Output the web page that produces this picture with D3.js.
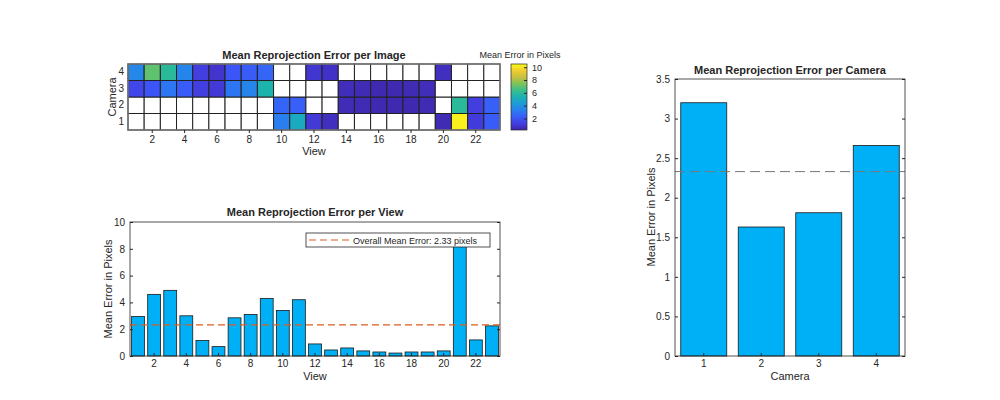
<!DOCTYPE html>
<html><head><meta charset="utf-8">
<script src="https://cdn.jsdelivr.net/npm/d3@7"></script>
<style>body{margin:0;background:#fff;font-family:"Liberation Sans",Arial,sans-serif}text{fill:#262626}</style>
</head><body><svg id="c" width="1000" height="400"></svg>
<script>
// per image errors, rows = camera 1..4, null = no image
const views = d3.range(1, 24);
const cameras = [1, 2, 3, 4];
const cam1 = [null,null,null,null,null,null,null,null,null,3.3,5.0,1.0,0.6,null,null,null,null,null,null,0.4,10.3,1.1,2.2];
const cam2 = [null,null,null,null,null,null,null,null,null,2.5,2.3,null,null,0.45,0.4,0.35,0.35,0.35,0.4,null,6.0,1.2,2.3];
const cam3 = [1.5,2.0,3.0,2.2,1.2,1.0,3.0,3.5,5.5,null,null,null,null,0.5,0.4,0.35,0.35,0.4,0.5,null,null,null,null];
const cam4 = [3.6,7.0,6.0,3.5,1.2,0.8,2.0,2.2,2.5,null,null,0.9,0.7,null,null,null,null,null,null,0.6,null,null,null];
const viewErr = [2.95,4.6,4.9,3.0,1.15,0.7,2.85,3.1,4.3,3.4,4.2,0.9,0.45,0.6,0.38,0.3,0.22,0.3,0.3,0.38,8.2,1.2,2.25];
const camErr = [3.2,1.63,1.81,2.66];
const overallMean = 2.33;

const svg = d3.select("#c");
const parula = d3.interpolateRgbBasis(["#3e26a8","#4743f8","#2f6ffa","#1f97e1","#12b2b2","#3cc383","#a7c43e","#f8ba3c","#f9fb15"]);

function title(x, y, t) {
  svg.append("text").attr("x", x).attr("y", y).attr("text-anchor", "middle")
    .attr("font-size", 11).attr("font-weight", "bold").text(t);
}
function styleAxis(g) { g.selectAll("text").attr("font-size", 10).attr("fill", "#262626"); g.selectAll("path,line").attr("stroke", "#262626"); }

// ---- heatmap
const hm = {l: 128, r: 500, t: 64, b: 130};
const hx = d3.scaleBand().domain(views).range([hm.l, hm.r]);
const hy = d3.scaleBand().domain([4, 3, 2, 1]).range([hm.t, hm.b]);
const hc = d3.scaleSequential(parula).domain([0.2, 10.5]);
const rows = {1: cam1, 2: cam2, 3: cam3, 4: cam4};
cameras.forEach(c => rows[c].forEach((v, i) => {
  svg.append("rect").attr("x", hx(i + 1)).attr("y", hy(c)).attr("width", hx.bandwidth()).attr("height", hy.bandwidth())
    .attr("fill", v == null ? "#fff" : hc(v)).attr("stroke", "#222").attr("stroke-width", 1);
}));
svg.append("rect").attr("x", hm.l).attr("y", hm.t).attr("width", hm.r - hm.l).attr("height", hm.b - hm.t).attr("fill", "none").attr("stroke", "#777").attr("stroke-width", 1.5);
svg.append("g").attr("transform", `translate(0,${hm.b})`).call(d3.axisBottom(hx).tickValues(d3.range(2, 23, 2)).tickSize(3).tickSizeOuter(0)).call(styleAxis).call(g => g.select(".domain").remove());
svg.append("g").attr("transform", `translate(${hm.l},0)`).call(d3.axisLeft(hy).tickSize(0).tickPadding(4)).call(styleAxis).call(g => g.select(".domain").remove());
title(314, 59, "Mean Reprojection Error per Image");
svg.append("text").attr("x", 314).attr("y", 155).attr("text-anchor", "middle").attr("font-size", 11).text("View");
svg.append("text").attr("transform", "translate(116,97) rotate(-90)").attr("text-anchor", "middle").attr("font-size", 11).text("Camera");
// colorbar
const cb = d3.scaleLinear().domain([0.2, 10.5]).range([130, 64]);
const grad = svg.append("defs").append("linearGradient").attr("id", "g").attr("x1", 0).attr("y1", 1).attr("x2", 0).attr("y2", 0);
d3.range(0, 1.01, 0.1).forEach(t => grad.append("stop").attr("offset", t).attr("stop-color", parula(t)));
svg.append("rect").attr("x", 511).attr("y", 64).attr("width", 16).attr("height", 66).attr("fill", "url(#g)").attr("stroke", "#262626").attr("stroke-width", 0.7);
svg.append("g").attr("transform", "translate(527,0)").call(d3.axisRight(cb).tickValues([2, 4, 6, 8, 10]).tickSize(-3).tickPadding(5)).call(styleAxis).call(g => g.selectAll("text").attr("font-size", 9)).call(g => g.select(".domain").remove());
svg.append("text").attr("x", 520).attr("y", 58).attr("text-anchor", "middle").attr("font-size", 9).text("Mean Error in Pixels");

// ---- per view bars
const vb = {l: 130, r: 500, t: 222, b: 356};
const vx = d3.scaleBand().domain(views).range([vb.l, vb.r]).paddingInner(0.2).paddingOuter(0.1);
const vy = d3.scaleLinear().domain([0, 10]).range([vb.b, vb.t]);
svg.append("g").selectAll("rect").data(viewErr).join("rect")
  .attr("x", (d, i) => vx(i + 1)).attr("y", d => vy(Math.min(d, 10))).attr("width", vx.bandwidth()).attr("height", d => vb.b - vy(Math.min(d, 10)))
  .attr("fill", "#00b0f6").attr("stroke", "#1a1a1a").attr("stroke-width", 0.8);
svg.append("line").attr("x1", vb.l).attr("x2", vb.r).attr("y1", vy(overallMean)).attr("y2", vy(overallMean))
  .attr("stroke", "#d95f1e").attr("stroke-width", 1.2).attr("stroke-dasharray", "7,4");
svg.append("g").attr("transform", `translate(0,${vb.b})`).call(d3.axisBottom(vx).tickValues(d3.range(2, 23, 2)).tickSize(-3).tickSizeOuter(0).tickPadding(4)).call(styleAxis).call(g => g.select(".domain").remove());
svg.append("g").attr("transform", `translate(${vb.l},0)`).call(d3.axisLeft(vy).ticks(5).tickSize(-3).tickPadding(5).tickSizeOuter(0)).call(styleAxis).call(g => g.select(".domain").remove());
svg.append("g").attr("transform", `translate(${vb.r},0)`).call(d3.axisRight(vy).ticks(5).tickSize(-3).tickFormat("").tickSizeOuter(0)).call(styleAxis).call(g => g.select(".domain").remove());
svg.append("rect").attr("x", vb.l).attr("y", vb.t).attr("width", vb.r - vb.l).attr("height", vb.b - vb.t).attr("fill", "none").attr("stroke", "#262626").attr("stroke-width", 0.8);
// legend
svg.append("rect").attr("x", 306).attr("y", 233).attr("width", 184).attr("height", 14).attr("fill", "#fff").attr("stroke", "#262626").attr("stroke-width", 0.8);
svg.append("line").attr("x1", 309).attr("x2", 349).attr("y1", 240).attr("y2", 240).attr("stroke", "#d95f1e").attr("stroke-width", 1.2).attr("stroke-dasharray", "7,4");
svg.append("text").attr("x", 353).attr("y", 243.5).attr("font-size", 9).text("Overall Mean Error: 2.33 pixels");
title(315, 216, "Mean Reprojection Error per View");
svg.append("text").attr("x", 315).attr("y", 380).attr("text-anchor", "middle").attr("font-size", 11).text("View");
svg.append("text").attr("transform", "translate(112,289) rotate(-90)").attr("text-anchor", "middle").attr("font-size", 11).text("Mean Error in Pixels");

// ---- per camera bars
const cbx = {l: 675, r: 905, t: 79, b: 356};
const cx = d3.scaleBand().domain(cameras).range([cbx.l, cbx.r]).paddingInner(0.2).paddingOuter(0.1);
const cy = d3.scaleLinear().domain([0, 3.5]).range([cbx.b, cbx.t]);
svg.append("g").selectAll("rect").data(camErr).join("rect")
  .attr("x", (d, i) => cx(i + 1)).attr("y", d => cy(d)).attr("width", cx.bandwidth()).attr("height", d => cbx.b - cy(d))
  .attr("fill", "#00b0f6").attr("stroke", "#1a1a1a").attr("stroke-width", 0.8);
svg.append("line").attr("x1", cbx.l).attr("x2", cbx.r).attr("y1", cy(overallMean)).attr("y2", cy(overallMean))
  .attr("stroke", "#777").attr("stroke-width", 1).attr("stroke-dasharray", "10,5");
svg.append("g").attr("transform", `translate(0,${cbx.b})`).call(d3.axisBottom(cx).tickSize(-3).tickSizeOuter(0).tickPadding(4)).call(styleAxis).call(g => g.select(".domain").remove());
svg.append("g").attr("transform", `translate(${cbx.l},0)`).call(d3.axisLeft(cy).tickValues(d3.range(0, 3.51, 0.5)).tickFormat(d3.format("~g")).tickSize(-3).tickPadding(5)).call(styleAxis).call(g => g.select(".domain").remove());
svg.append("g").attr("transform", `translate(${cbx.r},0)`).call(d3.axisRight(cy).tickValues(d3.range(0, 3.51, 0.5)).tickFormat("").tickSize(-3)).call(styleAxis).call(g => g.select(".domain").remove());
svg.append("rect").attr("x", cbx.l).attr("y", cbx.t).attr("width", cbx.r - cbx.l).attr("height", cbx.b - cbx.t).attr("fill", "none").attr("stroke", "#262626").attr("stroke-width", 0.8);
title(790, 74, "Mean Reprojection Error per Camera");
svg.append("text").attr("x", 790).attr("y", 380).attr("text-anchor", "middle").attr("font-size", 11).text("Camera");
svg.append("text").attr("transform", "translate(655,217) rotate(-90)").attr("text-anchor", "middle").attr("font-size", 11).text("Mean Error in Pixels");
</script></body></html>
